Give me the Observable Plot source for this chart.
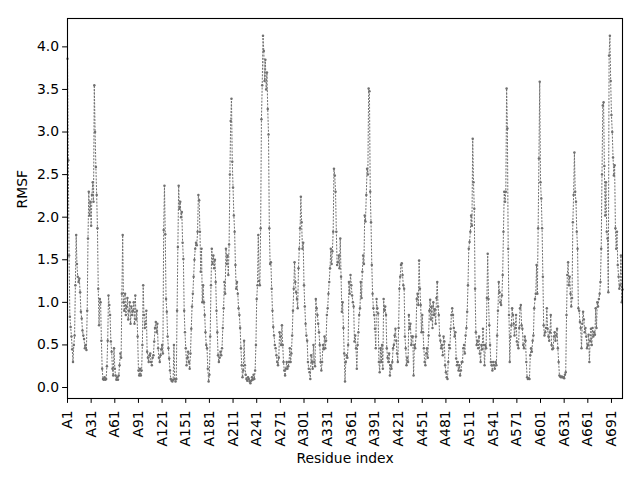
<!DOCTYPE html>
<html><head><meta charset="utf-8">
<script src="https://cdn.jsdelivr.net/npm/d3@7"></script>
<script src="https://cdn.jsdelivr.net/npm/@observablehq/plot@0.6"></script>
<style>body{margin:0;background:#fff}</style>
</head><body><div id="chart"></div>
<script>
const rmsf = [
3.86,2.67,1.55,0.83,0.71,0.6,0.45,0.3,0.5,0.61,
1.2,1.79,1.45,1.3,1.24,1.28,1.12,0.89,0.81,0.67,
0.61,0.57,0.46,0.5,0.44,0.9,1.75,2.3,2.02,2.18,
1.9,2.26,2.41,2.18,3.55,3.0,2.59,2.26,1.87,1.16,
0.73,1.04,1.0,0.55,0.22,0.1,0.09,0.12,0.09,0.1,
0.25,0.55,1.08,0.97,0.85,0.54,0.42,0.22,0.14,0.46,
0.22,0.14,0.09,0.12,0.09,0.14,0.26,0.4,0.35,1.1,
1.79,1.0,0.9,1.1,0.85,0.95,1.05,0.8,0.9,1.0,
0.75,0.95,0.85,0.9,1.0,0.75,1.08,0.8,0.9,0.6,
0.2,0.14,0.22,0.14,0.2,0.5,1.2,0.85,0.7,0.75,
0.9,0.42,0.35,0.3,0.38,0.4,0.3,0.26,0.35,0.38,
0.54,0.7,0.77,0.65,0.75,0.46,0.35,0.3,0.38,0.45,
0.5,0.4,1.85,2.37,1.8,1.04,0.89,0.6,0.46,0.34,
0.2,0.1,0.08,0.07,0.09,0.5,0.1,0.07,0.1,0.9,
1.65,2.37,2.1,2.18,2.0,2.06,1.7,1.51,0.9,0.65,
0.46,0.26,0.35,0.42,0.3,0.22,0.4,0.69,0.95,1.1,
1.3,1.5,1.63,1.7,1.67,1.83,2.26,2.2,1.83,1.36,
1.63,1.0,1.2,1.0,0.85,0.65,0.5,0.46,0.22,0.07,
0.15,0.6,1.2,1.63,1.45,1.55,1.4,1.5,1.24,0.9,
0.65,0.38,0.3,0.35,0.42,0.38,0.46,0.7,0.93,1.24,
1.1,1.63,1.45,1.55,1.32,1.68,2.5,3.13,3.39,2.65,
2.35,2.02,1.83,1.44,1.16,1.24,1.1,0.93,0.85,0.7,
0.46,0.26,0.12,0.2,0.55,0.26,0.15,0.1,0.08,0.12,
0.1,0.07,0.05,0.08,0.12,0.09,0.15,0.1,0.2,0.5,
1.04,1.2,1.79,1.25,1.2,1.87,3.15,3.55,4.13,3.95,
3.6,3.85,3.5,3.7,3.27,2.97,1.87,1.45,1.47,1.16,
0.9,0.71,0.61,0.5,0.46,0.38,0.3,0.26,0.35,0.65,
0.6,0.5,0.73,0.5,0.3,0.2,0.14,0.22,0.3,0.22,
0.25,0.3,0.46,0.3,0.4,0.61,0.9,1.16,1.47,1.24,
1.12,1.04,0.93,1.4,1.63,1.87,2.24,1.94,1.63,1.7,
1.2,0.95,0.75,0.61,0.55,0.3,0.22,0.18,0.1,0.38,
0.3,0.22,0.5,0.3,0.25,1.04,0.93,0.85,0.75,0.65,
0.5,0.3,0.2,0.3,0.5,0.45,0.6,0.46,0.55,0.85,
0.93,1.1,1.24,1.4,1.63,1.45,1.6,1.83,2.57,2.49,
2.3,1.83,1.44,1.47,1.55,1.4,1.75,1.3,0.89,1.0,
0.7,0.4,0.07,0.3,0.38,0.35,0.5,1.24,1.1,1.32,
1.2,1.08,1.0,0.95,0.54,0.61,0.46,0.22,0.5,0.65,
0.85,0.93,1.24,1.05,1.36,1.55,1.45,2.02,1.95,2.26,
2.57,2.5,3.51,3.48,2.3,1.94,1.44,1.1,0.93,0.85,
0.69,0.46,1.04,0.93,0.87,0.3,0.18,0.46,0.3,0.5,
0.22,1.04,0.9,0.95,0.85,0.46,0.35,0.3,0.4,0.14,
0.26,0.22,0.3,0.46,0.5,0.61,0.69,0.55,0.4,0.3,
0.7,1.16,1.3,1.44,1.46,1.32,1.2,1.16,0.6,0.46,
0.26,0.35,0.3,0.85,0.69,0.75,0.5,0.6,0.6,0.14,
0.5,0.46,0.6,1.04,1.1,0.97,1.49,1.16,0.97,0.65,
0.85,0.65,0.46,0.3,0.26,0.4,0.46,0.35,0.61,0.9,
1.03,0.8,0.95,0.7,1.0,0.85,0.92,0.75,1.05,1.24,
0.95,0.85,0.61,0.55,0.46,0.5,0.38,0.6,0.54,0.26,
0.18,0.12,0.1,0.3,0.5,0.46,0.69,0.85,0.93,0.85,
0.7,0.6,0.65,0.34,0.26,0.3,0.2,0.26,0.14,0.2,
0.3,0.3,0.46,0.5,0.4,0.61,0.7,0.89,1.2,1.63,
1.71,1.83,2.02,1.9,2.92,2.41,2.1,1.16,0.65,0.5,
0.55,0.46,0.6,0.4,0.3,0.5,0.45,0.69,0.5,0.26,
0.5,0.46,1.05,1.57,1.04,0.73,0.5,0.3,0.26,0.2,
0.3,0.26,0.22,0.3,0.26,0.61,0.9,1.24,1.12,1.0,
0.97,1.08,1.32,1.83,2.3,2.18,2.3,3.51,3.04,1.63,
0.85,0.3,0.6,0.73,0.93,0.85,0.75,0.61,0.7,0.85,
0.54,0.5,0.46,0.7,0.93,0.97,0.73,0.69,0.5,0.46,
0.6,0.55,0.3,0.12,0.1,0.11,0.1,0.38,0.46,0.42,
0.55,0.61,0.93,1.04,1.1,1.44,1.1,1.87,2.69,3.59,
2.41,2.22,1.87,1.3,0.73,0.61,0.65,0.7,0.93,0.69,
0.6,0.55,0.65,0.85,0.5,0.45,0.46,0.6,0.65,0.55,
0.61,0.69,0.46,0.3,0.14,0.13,0.12,0.13,0.12,0.12,
0.11,0.15,0.18,0.85,1.32,1.47,1.2,1.3,1.1,0.95,
1.05,1.94,2.26,2.76,2.3,2.18,1.83,1.63,0.93,0.9,
0.77,0.7,0.46,0.75,0.89,0.8,0.65,0.7,0.6,0.46,
0.5,0.62,0.3,0.55,0.69,0.5,0.7,0.6,0.65,0.62,
0.93,0.7,1.0,0.95,1.04,1.1,1.24,1.63,2.5,3.31,
3.35,2.6,2.02,2.41,1.83,1.75,1.12,3.9,4.13,3.6,
3.2,3.0,2.7,2.49,2.61,1.87,1.63,1.83,1.44,1.3,
1.16,1.2,1.55,1.0,1.15
];
const residueIndex = rmsf.map((_, k) => k);
const xTickPositions = [0,30,60,90,120,150,180,210,240,270,300,330,360,390,420,450,480,510,540,570,600,630,660,690];
const xTickLabels = ["A1","A31","A61","A91","A121","A151","A181","A211","A241","A271","A301","A331","A361","A391","A421","A451","A481","A511","A541","A571","A601","A631","A661","A691"];
const yTicks = [0,0.5,1,1.5,2,2.5,3,3.5,4];
const xLabel = "Residue index";
const yLabel = "RMSF";

const data = rmsf.map((v, k) => ({i: residueIndex[k], v}));
const col = "#707070";
const fs = 13.9;
const plot = Plot.plot({
  width: 640, height: 480,
  marginLeft: 67, marginRight: 18, marginTop: 18, marginBottom: 82,
  style: {fontFamily: "DejaVu Sans", fontSize: fs + "px", color: "black", background: "white", overflow: "visible"},
  x: {domain: [0, 704]},
  y: {domain: [-0.129, 4.333]},
  marks: [
    Plot.line(data, {x: "i", y: "v", stroke: col, strokeWidth: 1, strokeDasharray: "1.2,2.1"}),
    Plot.dot(data, {x: "i", y: "v", r: 1.25, fill: col, stroke: null}),
    Plot.frame({stroke: "black", strokeWidth: 1.1}),
    Plot.axisX({ticks: xTickPositions, tickFormat: d => xTickLabels[xTickPositions.indexOf(d)], tickRotate: -90, tickSize: 4.9, tickPadding: 7, label: null, fontSize: fs}),
    Plot.axisY({ticks: yTicks, tickFormat: d => d.toFixed(1), tickSize: 4.9, tickPadding: 3.5, label: null, fontSize: fs}),
    Plot.text([xLabel], {frameAnchor: "bottom", dy: 64, fontSize: fs, fill: "black"}),
    Plot.text([yLabel], {frameAnchor: "left", dx: -45, rotate: -90, fontSize: fs, fill: "black"})
  ]
});
document.getElementById("chart").appendChild(plot);
</script>
</body></html>
